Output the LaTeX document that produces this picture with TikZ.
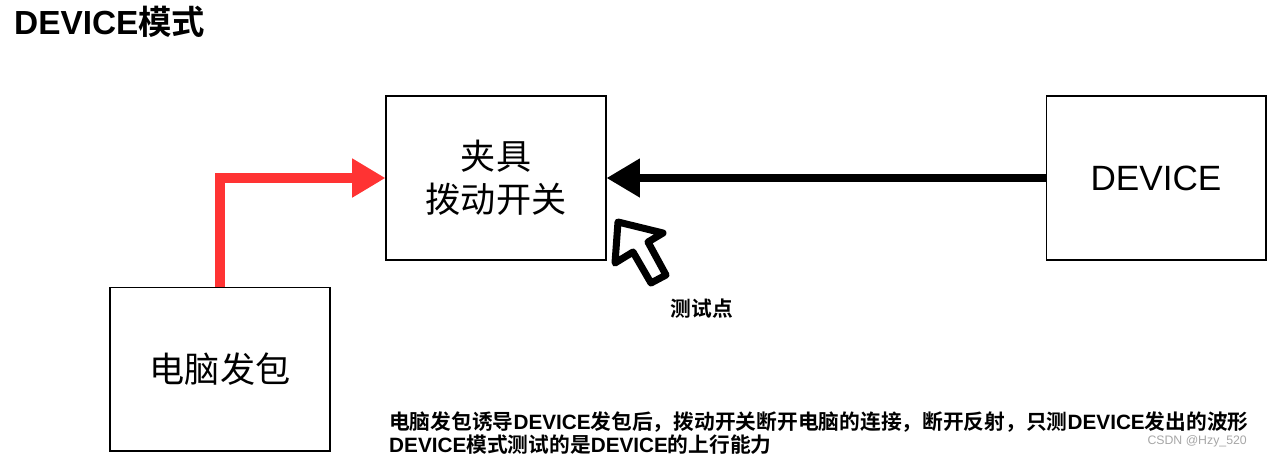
\documentclass[tikz,border=0pt]{standalone}
\usepackage{fontspec}
\setmainfont{Liberation Sans}
\newfontfamily\cjk{Noto Sans CJK SC}[BoldFont={Noto Sans CJK SC Bold}]
\usetikzlibrary{arrows.meta, positioning}
\newcommand{\zh}[1]{{\cjk #1}}

\tikzset{
  box/.style={draw, line width=0.6pt, minimum width=4.4cm, minimum height=3.28cm,
    align=center, font=\fontsize{20}{24.5}\selectfont},
  note/.style={font=\fontsize{11.8}{13}\selectfont\bfseries}
}

\begin{document}
\begin{tikzpicture}[x=0.02cm, y=-0.02cm]
        \useasboundingbox (0,0) rectangle (1268,458);

        % Titolo
        \node[anchor=west, font=\fontsize{19}{22}\selectfont\bfseries] (title) at (8,22) {DEVICE\zh{模式}};

        % Blocchi
        \node[box] (fixture) at (496,178) {\zh{夹具}\\\zh{拨动开关}};
        \node[box] (device) at (1156,178) {DEVICE};
        \node[box] (pc) at (220,369) {\zh{电脑发包}};

        % Frecce
        \draw[line width=5.7pt, color={rgb,255:red,255;green,51;blue,51}, -{Triangle[length=19pt,width=21pt]}]
            (pc.north) |- (fixture.west);
        \draw[line width=4.5pt, -{Triangle[length=19pt,width=21pt]}] (device.west) -- (fixture.east);

        % Cursore (punto di misura)
        \draw[line width=4pt, line join=round] (618,222) -- (615,263) -- (633,252) -- (651,283)
            -- (666,275) -- (648,242) -- (663,233) -- cycle;
        \node[note] (probe) at (702,309) {\zh{测试点}};

        % Nota in basso
        \node[note, anchor=north west, align=left] (desc) at (383,406)
            {\zh{电脑发包诱导}DEVICE\zh{发包后，拨动开关断开电脑的连接，断开反射，只测}DEVICE\zh{发出的波形}\\
             DEVICE\zh{模式测试的是}DEVICE\zh{的上行能力}};
        \node[anchor=east, gray!70, font=\fontsize{7}{8}\selectfont] (mark) at (1253,441) {CSDN @Hzy\_520};
    \end{tikzpicture}
\end{document}
